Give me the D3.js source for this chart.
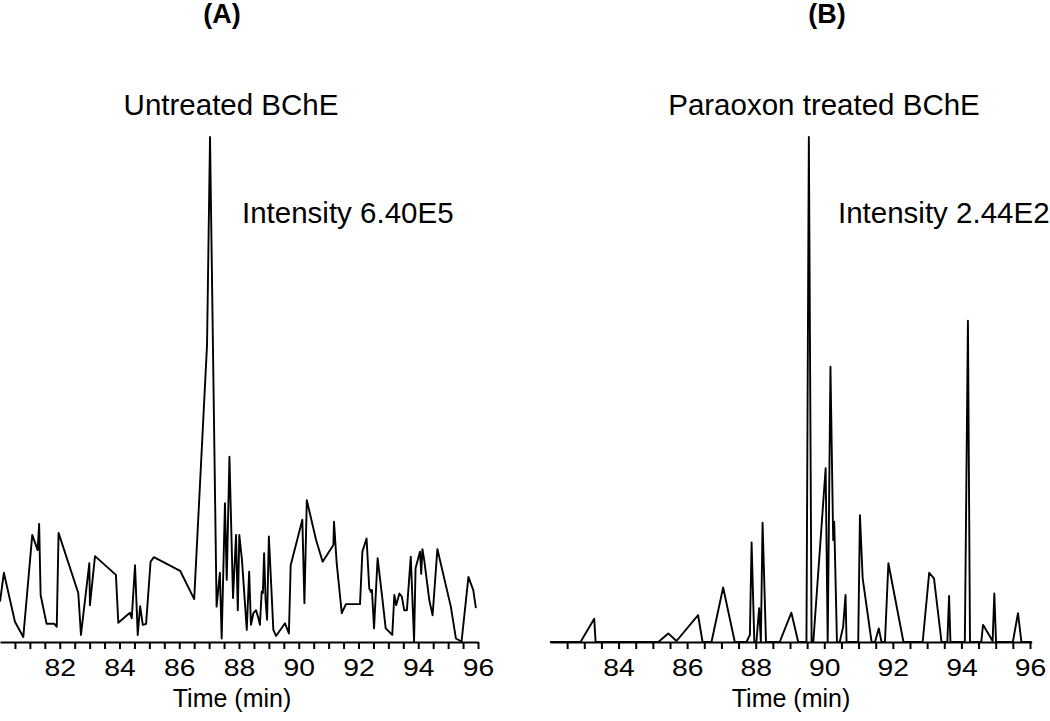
<!DOCTYPE html>
<html>
<head>
<meta charset="utf-8">
<script src="https://cdn.jsdelivr.net/npm/d3@7"></script>
<style>
  body { margin: 0; background: #fff; }
  svg { display: block; font-family: "Liberation Sans", Arial, sans-serif; }
</style>
</head>
<body>
<div id="viz"></div>
<script>
/* Two chromatograms side by side, drawn with D3 */

// panel A - untreated BChE (time in min, relative intensity %)
var timeA = [80.00, 80.13, 80.50, 80.78, 81.08, 81.26, 81.31, 81.36, 81.56, 81.82,
             81.90, 81.96, 82.62, 82.71, 82.99, 83.01, 83.18, 83.88, 83.96, 84.35,
             84.41, 84.52, 84.61, 84.69, 84.78, 84.89, 85.04, 85.15, 86.03, 86.50,
             86.93, 87.03, 87.25, 87.36, 87.42, 87.53, 87.59, 87.68, 87.80, 87.90,
             87.96, 88.01, 88.10, 88.26, 88.34, 88.40, 88.48, 88.57, 88.65, 88.70,
             88.76, 88.80, 88.84, 88.89, 88.94, 89.00, 89.15, 89.24, 89.54, 89.67,
             89.73, 90.12, 90.19, 90.27, 90.58, 90.80, 91.16, 91.18, 91.27, 91.44,
             91.58, 92.05, 92.13, 92.27, 92.36, 92.42, 92.45, 92.52, 92.64, 92.81,
             92.91, 93.13, 93.20, 93.26, 93.37, 93.45, 93.53, 93.62, 93.75, 93.86,
             93.91, 94.06, 94.10, 94.14, 94.20, 94.37, 94.48, 94.64, 95.09, 95.26,
             95.45, 95.68, 95.84, 95.93];
var intA = [8.0, 13.7, 4.0, 1.0, 21.2, 18.2, 23.4, 9.3, 3.6, 3.6,
            3.0, 21.6, 9.7, 1.4, 15.6, 7.3, 17.0, 13.3, 3.8, 5.8,
            4.7, 15.2, 1.4, 7.1, 3.4, 3.6, 15.9, 16.8, 14.1, 8.5,
            58.8, 100, 7.0, 13.7, 0.7, 27.5, 12.3, 36.7, 8.7, 21.2,
            6.3, 21.2, 16.2, 2.4, 13.9, 3.4, 5.7, 6.3, 4.7, 3.4,
            10.0, 9.7, 17.6, 8.3, 4.4, 20.9, 2.4, 1.2, 3.7, 1.7,
            15.2, 24.2, 7.7, 28.1, 20.2, 15.9, 19.2, 23.8, 15.6, 5.7,
            7.5, 7.5, 17.9, 20.5, 10.6, 9.9, 10.3, 2.7, 16.6, 8.0,
            2.7, 1.4, 9.3, 7.3, 9.6, 9.0, 6.3, 6.3, 16.9, 0.1,
            14.6, 17.9, 13.5, 18.4, 16.2, 8.3, 5.3, 18.4, 7.0, 0.7,
            0.1, 12.9, 10.3, 6.7];

// panel B - paraoxon treated BChE
var timeB = [82.00, 82.89, 83.29, 83.33, 85.16, 85.45, 85.69, 86.32, 86.45, 86.71,
             87.05, 87.39, 87.73, 87.83, 87.88, 87.96, 88.02, 88.10, 88.15, 88.20,
             88.30, 88.70, 89.04, 89.24, 89.48, 89.55, 89.63, 89.68, 90.04, 90.10,
             90.18, 90.26, 90.29, 90.37, 90.45, 90.55, 90.62, 90.65, 90.99, 91.04,
             91.12, 91.38, 91.48, 91.59, 91.67, 91.77, 91.87, 92.31, 92.87, 93.06,
             93.20, 93.42, 93.59, 93.64, 93.68, 94.10, 94.19, 94.25, 94.58, 94.63,
             94.91, 94.96, 95.01, 95.50, 95.65, 95.75, 96.05];
var intB = [0, 0, 4.6, 0, 0, 1.7, 0.2, 5.3, 0, 0,
            10.8, 0, 0, 1.4, 19.7, 0, 0, 6.7, 0, 23.6,
            0, 0, 5.8, 0, 0, 100, 0, 0, 34.4, 0,
            54.5, 20.2, 23.8, 0, 0, 3.0, 9.3, 0, 0, 25.1,
            12.6, 0, 0, 2.7, 0, 0, 15.6, 0, 0, 13.7,
            12.6, 0, 0, 9.1, 0, 0, 63.6, 0, 0, 3.4,
            0.2, 9.6, 0, 0, 5.7, 0, 0];

var panelTitles = ['(A)', '(B)'];
var sampleNames = ['Untreated BChE', 'Paraoxon treated BChE'];
var intensityNotes = ['Intensity 6.40E5', 'Intensity 2.44E2'];
var xTitle = 'Time (min)';
var tickStartA = 80.5, tickStartB = 82.5, tickEnd = 96, tickStep = 0.5;

var width = 1050,
    height = 721,
    axisY = 642,
    topY = 137;

var svg = d3.select('#viz').append('svg')
    .attr('width', width)
    .attr('height', height);

var yScale = d3.scaleLinear()
    .domain([0, 100])
    .range([axisY, topY]);

var panels = [
  { time: timeA, inten: intA, domain: [80, 96], range: [0, 478], tick0: tickStartA,
    titleX: 222, nameX: 231, noteX: 242, labelX: 232 },
  { time: timeB, inten: intB, domain: [82, 96.05], range: [550, 1031.7], tick0: tickStartB,
    titleX: 827, nameX: 824, noteX: 838, labelX: 791 }
];

panels.forEach(function(p, k) {
  var xScale = d3.scaleLinear()
      .domain(p.domain)
      .range(p.range);

  var pts = p.time.map(function(t, i) { return [t, p.inten[i]]; });

  var line = d3.line()
      .x(function(d) { return xScale(d[0]); })
      .y(function(d) { return yScale(d[1]); });

  svg.append('path')
    .datum(pts)
    .attr('d', line)
    .attr('fill', 'none')
    .attr('stroke', '#000')
    .attr('stroke-width', 1.9)
    .attr('stroke-linejoin', 'round');

  var xAxis = d3.axisBottom(xScale)
      .tickValues(d3.range(p.tick0, tickEnd + 0.01, tickStep))
      .tickSize(7)
      .tickSizeOuter(0)
      .tickPadding(10)
      .tickFormat(function(d) { return d % 2 === 0 ? d : ''; });

  var g = svg.append('g')
    .attr('transform', 'translate(0,' + axisY + ')')
    .call(xAxis);

  g.select('.domain').attr('stroke-width', 2);
  g.selectAll('.tick line').attr('stroke-width', 2);
  // tick digits in the original are drawn a little wide
  g.selectAll('.tick text')
    .attr('font-family', '"Liberation Sans", Arial, sans-serif')
    .attr('font-size', 24)
    .attr('fill', '#000')
    .attr('transform', 'scale(1.18,1)');

  svg.append('text')
    .attr('x', p.labelX)
    .attr('y', 707)
    .attr('text-anchor', 'middle')
    .attr('font-size', 25)
    .text(xTitle);

  svg.append('text')
    .attr('x', p.titleX)
    .attr('y', 23)
    .attr('text-anchor', 'middle')
    .attr('font-size', 27)
    .attr('font-weight', 'bold')
    .text(panelTitles[k]);

  svg.append('text')
    .attr('x', p.nameX)
    .attr('y', 115)
    .attr('text-anchor', 'middle')
    .attr('font-size', 29.5)
    .text(sampleNames[k]);

  svg.append('text')
    .attr('x', p.noteX)
    .attr('y', 223)
    .attr('font-size', 29.5)
    .text(intensityNotes[k]);
});
</script>
</body>
</html>
